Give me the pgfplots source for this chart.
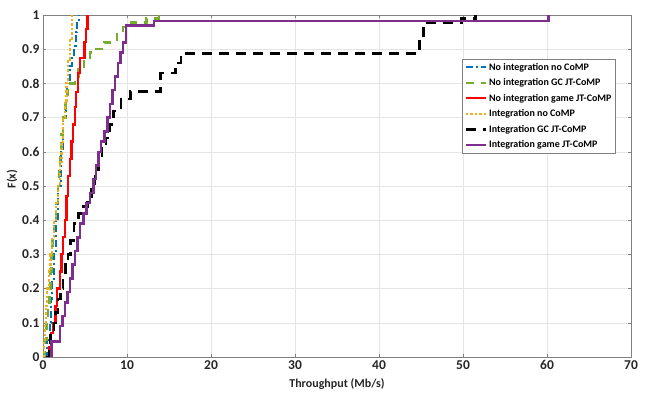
\documentclass[border=0pt]{standalone}
\usepackage{pgfplots}
\pgfplotsset{compat=1.18}
\usepackage{fontspec}
\setmainfont{Carlito}
\definecolor{mblue}{RGB}{0,114,189}
\definecolor{mgreen}{RGB}{119,172,48}
\definecolor{mred}{RGB}{255,0,0}
\definecolor{myellow}{RGB}{237,177,32}
\definecolor{mpurple}{RGB}{126,47,142}
\definecolor{tickc}{RGB}{38,38,38}
\begin{document}
\begin{tikzpicture}
\useasboundingbox (-43pt,-38pt) rectangle (604pt,357pt);
\begin{axis}[
  scale only axis, width=588pt, height=342pt,
  at={(0,0)}, anchor=south west,
  xmin=0, xmax=70, ymin=0, ymax=1,
  xtick={0,10,...,70}, ytick={0,0.1,...,1.0},
  yticklabels={0,0.1,0.2,0.3,0.4,0.5,0.6,0.7,0.8,0.9,1},
  grid=major, major grid style={draw=black!10, line width=0.5pt},
  axis line style={draw=black!50, line width=0.6pt},
  tick style={draw=black!50},
  tick align=inside, major tick length=3pt,
  ticklabel style={font=\fontsize{13.5}{13.5}\selectfont\bfseries, text=tickc},
  /pgf/number format/assume math mode=true,
  xlabel={Throughput (Mb/s)}, ylabel={F(x)},
  label style={font=\fontsize{12}{12}\selectfont\bfseries, text=tickc},
  xlabel style={at={(axis description cs:0.5,0)}, anchor=north, yshift=-18pt},
  ylabel style={at={(axis description cs:0,0.52)}, anchor=south, yshift=22pt},
  legend style={at={(0.974,0.872)}, anchor=north east, draw=black!50,
    font=\fontsize{10}{10}\selectfont\bfseries, row sep=3pt, inner sep=2pt,
    legend cell align=left},
  legend image code/.code={\draw[#1] (0pt,0pt) -- (20pt,0pt);},
]
\addplot[const plot, mblue, line width=2pt, dash pattern=on 7pt off 3pt on 2pt off 3pt] coordinates {
(0.3,0) (0.5,0.05) (0.8,0.1) (1.0,0.17) (1.1,0.22) (1.3,0.3) (1.5,0.4) (1.8,0.5)
(2.1,0.6) (2.4,0.7) (2.7,0.77) (2.9,0.81) (3.2,0.85) (3.5,0.88) (3.7,0.91) (3.9,0.95) (4.1,0.98) (4.3,1.0)};
\addlegendentry{No integration no CoMP}
\addplot[const plot, mgreen, line width=2.5pt, dash pattern=on 8pt off 7pt] coordinates {
(0,0) (0.2,0.05) (0.4,0.1) (0.6,0.15) (0.8,0.2) (0.9,0.25) (1.0,0.3) (1.15,0.35) (1.3,0.4)
(1.55,0.45) (1.8,0.5) (1.9,0.55) (2.0,0.6) (2.2,0.65) (2.4,0.7) (2.7,0.75) (2.9,0.78) (3.3,0.8)
(3.8,0.82) (4.2,0.84) (4.9,0.87) (5.6,0.89) (6.3,0.9) (7.3,0.92) (8.8,0.95) (9.5,0.965)
(10.5,0.978) (12.3,0.99) (13.8,1.0)};
\addlegendentry{No integration GC JT-CoMP}
\addplot[const plot, mred, line width=2.2pt] coordinates {
(0.5,0) (0.7,0.03) (1.0,0.07) (1.2,0.1) (1.5,0.15) (1.7,0.2) (2.0,0.25) (2.2,0.3) (2.4,0.35)
(2.6,0.4) (2.8,0.47) (3.0,0.53) (3.2,0.58) (3.4,0.63) (3.6,0.68) (3.8,0.73) (3.95,0.775)
(4.2,0.83) (4.45,0.875) (4.95,0.92) (5.1,0.96) (5.3,1.0)};
\addlegendentry{No integration game JT-CoMP}
\addplot[const plot, myellow, line width=2.2pt, dash pattern=on 2.5pt off 2pt] coordinates {
(0,0) (0.1,0.05) (0.2,0.1) (0.35,0.15) (0.5,0.2) (0.7,0.25) (0.9,0.3) (1.1,0.35) (1.3,0.4)
(1.55,0.45) (1.8,0.5) (2.0,0.57) (2.2,0.63) (2.4,0.7) (2.6,0.75) (2.8,0.8) (3.0,0.87)
(3.2,0.93) (3.45,1.0)};
\addlegendentry{Integration no CoMP}
\addplot[const plot, black, line width=2.5pt, dash pattern=on 10pt off 7pt] coordinates {
(0.4,0) (0.7,0.03) (0.9,0.07) (1.3,0.1) (1.5,0.13) (1.8,0.17) (2.1,0.2) (2.4,0.23) (2.7,0.27)
(3.0,0.3) (3.3,0.34) (3.7,0.39) (4.2,0.42) (4.8,0.44) (5.3,0.47) (5.8,0.5) (6.2,0.54)
(6.6,0.58) (7.0,0.61) (7.5,0.64) (8.0,0.68) (8.4,0.72) (9.3,0.755) (10.4,0.776) (14.0,0.83)
(15.8,0.86) (16.4,0.887) (44.8,0.93) (45.3,0.977) (49.8,0.99) (51.5,1.0)};
\addlegendentry{Integration GC JT-CoMP}
\addplot[const plot, mpurple, line width=2.5pt] coordinates {
(0.8,0) (1.0,0.045) (2.0,0.09) (2.3,0.12) (2.6,0.16) (2.9,0.19) (3.2,0.23) (3.5,0.27)
(3.8,0.31) (4.1,0.35) (4.4,0.39) (4.8,0.42) (5.2,0.45) (5.6,0.48) (6.0,0.52) (6.3,0.56)
(6.6,0.6) (6.9,0.63) (7.3,0.66) (7.7,0.7) (8.0,0.74) (8.3,0.78) (8.6,0.82) (8.9,0.86)
(9.2,0.89) (9.5,0.92) (9.9,0.97) (13.2,0.983) (60.2,1.0)};
\addlegendentry{Integration game JT-CoMP}
\end{axis}
\end{tikzpicture}
\end{document}
